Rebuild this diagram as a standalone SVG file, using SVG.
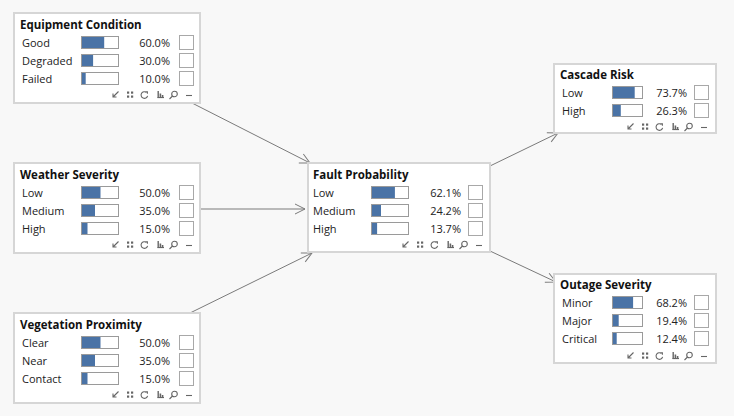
<svg xmlns="http://www.w3.org/2000/svg" width="734" height="416" viewBox="0 0 734 416">
<defs>
<style>
.bg{fill:#f8f8f8}
.box{fill:#ffffff;stroke:#d6d6d6;stroke-width:2}
.title{font-family:"Open Sans","Liberation Sans",sans-serif;font-size:11.5px;font-weight:bold;fill:#111}
.lbl{font-family:"Open Sans","Liberation Sans",sans-serif;font-size:11px;fill:#222}
.pct{font-family:"Open Sans","Liberation Sans",sans-serif;font-size:11px;fill:#222;text-anchor:end}
.bar{fill:#ffffff;stroke:#9a9a9a;stroke-width:1}
.fill{fill:#4a73a6}
.chk{fill:#ffffff;stroke:#a8a8a8;stroke-width:1}
.edge{stroke:#7a7a7a;stroke-width:1;fill:none;marker-end:url(#arr)}
.ic{stroke:#666;stroke-width:1.1;fill:none}
.icf{fill:#666}
</style>
<marker id="arr" viewBox="0 0 12 12" refX="11" refY="6" markerWidth="12" markerHeight="12" markerUnits="userSpaceOnUse" orient="auto">
<path d="M1,1 L11,6 L1,11" fill="none" stroke="#7a7a7a" stroke-width="1"/>
</marker>
<g id="icons">
<path class="ic" d="M3.5,-3.5 L-2,2 M-2,-1.5 L-2,2 L1.5,2"/>
<rect class="icf" x="12" y="-3.5" width="2.2" height="2.2"/><rect class="icf" x="16" y="-3.5" width="2.2" height="2.2"/>
<rect class="icf" x="12" y="0.5" width="2.2" height="2.2"/><rect class="icf" x="16" y="0.5" width="2.2" height="2.2"/>
<path class="ic" d="M31.5,-2.5 A3.3,3.3 0 1 0 32.6,0.8 M30.3,-3.3 L32.4,-3.3 L32.4,-1.2"/>
<rect class="icf" x="42.5" y="-4" width="1.4" height="7"/><rect class="icf" x="44.6" y="-1.5" width="1.6" height="4.5"/><rect class="icf" x="46.8" y="0" width="1.6" height="3"/><rect class="icf" x="42.5" y="2" width="6.5" height="1.1"/>
<circle class="ic" cx="59.5" cy="-1" r="2.8"/><path class="ic" d="M57.5,1 L54.5,4"/>
<path class="ic" d="M71,0.5 L77,0.5"/>
</g>
</defs>
<rect class="bg" x="0" y="0" width="734" height="416"/>

<g id="connectors">
<path class="edge" d="M192,103 L310,163"/>
<path class="edge" d="M200,209 L305,209"/>
<path class="edge" d="M190,313 L312,253"/>
<path class="edge" d="M490,166 L558,133"/>
<path class="edge" d="M490,251 L556,282"/>
</g>

<g id="equipment-condition" transform="translate(14,13)">
<rect class="box" x="0" y="0" width="186" height="90"/>
<text class="title" x="6" y="16">Equipment Condition</text>
<text class="lbl" x="8" y="34">Good</text>
<rect class="bar" x="67.5" y="23.5" width="37" height="12"/><rect class="fill" x="68" y="24" width="22.2" height="11"/>
<text class="pct" x="156" y="34">60.0%</text><rect class="chk" x="165.5" y="22.5" width="14" height="14"/>
<text class="lbl" x="8" y="52">Degraded</text>
<rect class="bar" x="67.5" y="41.5" width="37" height="12"/><rect class="fill" x="68" y="42" width="11.1" height="11"/>
<text class="pct" x="156" y="52">30.0%</text><rect class="chk" x="165.5" y="40.5" width="14" height="14"/>
<text class="lbl" x="8" y="70">Failed</text>
<rect class="bar" x="67.5" y="59.5" width="37" height="12"/><rect class="fill" x="68" y="60" width="3.7" height="11"/>
<text class="pct" x="156" y="70">10.0%</text><rect class="chk" x="165.5" y="58.5" width="14" height="14"/>
<use href="#icons" x="101" y="82"/>
</g>

<g id="weather-severity" transform="translate(14,163)">
<rect class="box" x="0" y="0" width="186" height="90"/>
<text class="title" x="6" y="16">Weather Severity</text>
<text class="lbl" x="8" y="34">Low</text>
<rect class="bar" x="67.5" y="23.5" width="37" height="12"/><rect class="fill" x="68" y="24" width="18.5" height="11"/>
<text class="pct" x="156" y="34">50.0%</text><rect class="chk" x="165.5" y="22.5" width="14" height="14"/>
<text class="lbl" x="8" y="52">Medium</text>
<rect class="bar" x="67.5" y="41.5" width="37" height="12"/><rect class="fill" x="68" y="42" width="13" height="11"/>
<text class="pct" x="156" y="52">35.0%</text><rect class="chk" x="165.5" y="40.5" width="14" height="14"/>
<text class="lbl" x="8" y="70">High</text>
<rect class="bar" x="67.5" y="59.5" width="37" height="12"/><rect class="fill" x="68" y="60" width="5.5" height="11"/>
<text class="pct" x="156" y="70">15.0%</text><rect class="chk" x="165.5" y="58.5" width="14" height="14"/>
<use href="#icons" x="101" y="82"/>
</g>

<g id="vegetation-proximity" transform="translate(14,313)">
<rect class="box" x="0" y="0" width="186" height="90"/>
<text class="title" x="6" y="16">Vegetation Proximity</text>
<text class="lbl" x="8" y="34">Clear</text>
<rect class="bar" x="67.5" y="23.5" width="37" height="12"/><rect class="fill" x="68" y="24" width="18.5" height="11"/>
<text class="pct" x="156" y="34">50.0%</text><rect class="chk" x="165.5" y="22.5" width="14" height="14"/>
<text class="lbl" x="8" y="52">Near</text>
<rect class="bar" x="67.5" y="41.5" width="37" height="12"/><rect class="fill" x="68" y="42" width="13" height="11"/>
<text class="pct" x="156" y="52">35.0%</text><rect class="chk" x="165.5" y="40.5" width="14" height="14"/>
<text class="lbl" x="8" y="70">Contact</text>
<rect class="bar" x="67.5" y="59.5" width="37" height="12"/><rect class="fill" x="68" y="60" width="5.5" height="11"/>
<text class="pct" x="156" y="70">15.0%</text><rect class="chk" x="165.5" y="58.5" width="14" height="14"/>
<use href="#icons" x="101" y="82"/>
</g>

<g id="fault-probability" transform="translate(308,163)">
<rect class="box" x="0" y="0" width="182" height="89"/>
<text class="title" x="5" y="16">Fault Probability</text>
<text class="lbl" x="5" y="34">Low</text>
<rect class="bar" x="63.5" y="23.5" width="37" height="12"/><rect class="fill" x="64" y="24" width="22.9" height="11"/>
<text class="pct" x="153" y="34">62.1%</text><rect class="chk" x="160.5" y="22.5" width="14" height="14"/>
<text class="lbl" x="5" y="52">Medium</text>
<rect class="bar" x="63.5" y="41.5" width="37" height="12"/><rect class="fill" x="64" y="42" width="9" height="11"/>
<text class="pct" x="153" y="52">24.2%</text><rect class="chk" x="160.5" y="40.5" width="14" height="14"/>
<text class="lbl" x="5" y="70">High</text>
<rect class="bar" x="63.5" y="59.5" width="37" height="12"/><rect class="fill" x="64" y="60" width="5.1" height="11"/>
<text class="pct" x="153" y="70">13.7%</text><rect class="chk" x="160.5" y="58.5" width="14" height="14"/>
<use href="#icons" x="97" y="82"/>
</g>

<g id="cascade-risk" transform="translate(554,64)">
<rect class="box" x="0" y="0" width="162" height="69"/>
<text class="title" x="6" y="15">Cascade Risk</text>
<text class="lbl" x="8" y="33">Low</text>
<rect class="bar" x="58.5" y="22.5" width="30" height="12"/><rect class="fill" x="59" y="23" width="21.7" height="11"/>
<text class="pct" x="133" y="33">73.7%</text><rect class="chk" x="140.5" y="21.5" width="14" height="14"/>
<text class="lbl" x="8" y="51">High</text>
<rect class="bar" x="58.5" y="40.5" width="30" height="12"/><rect class="fill" x="59" y="41" width="7.8" height="11"/>
<text class="pct" x="133" y="51">26.3%</text><rect class="chk" x="140.5" y="39.5" width="14" height="14"/>
<use href="#icons" x="76" y="63"/>
</g>

<g id="outage-severity" transform="translate(554,274)">
<rect class="box" x="0" y="0" width="162" height="89"/>
<text class="title" x="6" y="15">Outage Severity</text>
<text class="lbl" x="8" y="33">Minor</text>
<rect class="bar" x="58.5" y="22.5" width="30" height="12"/><rect class="fill" x="59" y="23" width="20.1" height="11"/>
<text class="pct" x="133" y="33">68.2%</text><rect class="chk" x="140.5" y="21.5" width="14" height="14"/>
<text class="lbl" x="8" y="51">Major</text>
<rect class="bar" x="58.5" y="40.5" width="30" height="12"/><rect class="fill" x="59" y="41" width="5.7" height="11"/>
<text class="pct" x="133" y="51">19.4%</text><rect class="chk" x="140.5" y="39.5" width="14" height="14"/>
<text class="lbl" x="8" y="69">Critical</text>
<rect class="bar" x="58.5" y="58.5" width="30" height="12"/><rect class="fill" x="59" y="59" width="3.7" height="11"/>
<text class="pct" x="133" y="69">12.4%</text><rect class="chk" x="140.5" y="57.5" width="14" height="14"/>
<use href="#icons" x="76" y="82"/>
</g>
</svg>
